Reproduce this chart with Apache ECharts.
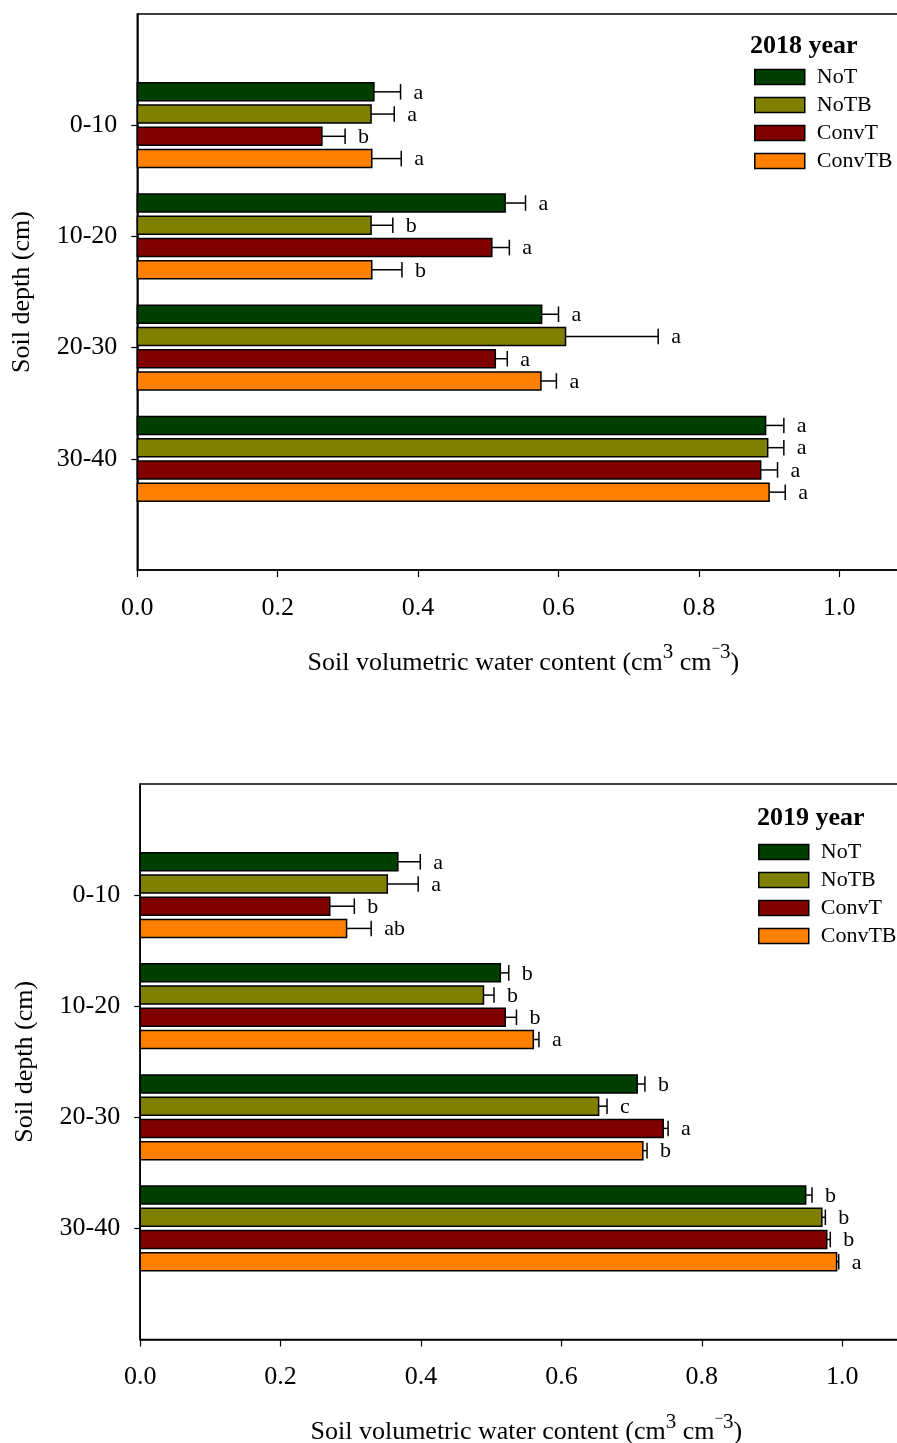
<!DOCTYPE html>
<html><head><meta charset="utf-8">
<script src="https://cdn.jsdelivr.net/npm/echarts@6/dist/echarts.min.js"></script>
<style>html,body{margin:0;padding:0;background:#fff}#c{width:897px;height:1443px}</style>
</head><body><div id="c"></div>
<script>
const depths = ['0-10', '10-20', '20-30', '30-40'];
const treatments = ['NoT', 'NoTB', 'ConvT', 'ConvTB'];
const colors = ['#003F00', '#808000', '#800000', '#FF8000'];
const xTicks = [0, 0.2, 0.4, 0.6, 0.8, 1.0];

// 2018
const y18_NoT = [0.337, 0.524, 0.576, 0.895];
const y18_NoTB = [0.333, 0.333, 0.610, 0.898];
const y18_ConvT = [0.263, 0.505, 0.510, 0.888];
const y18_ConvTB = [0.334, 0.334, 0.575, 0.900];
const e18_NoT = [0.038, 0.029, 0.024, 0.026];
const e18_NoTB = [0.033, 0.031, 0.132, 0.023];
const e18_ConvT = [0.033, 0.025, 0.017, 0.024];
const e18_ConvTB = [0.042, 0.043, 0.022, 0.023];
const l18_NoT = ['a', 'a', 'a', 'a'];
const l18_NoTB = ['a', 'b', 'a', 'a'];
const l18_ConvT = ['b', 'a', 'a', 'a'];
const l18_ConvTB = ['a', 'b', 'a', 'a'];

// 2019
const y19_NoT = [0.367, 0.513, 0.708, 0.948];
const y19_NoTB = [0.352, 0.489, 0.653, 0.971];
const y19_ConvT = [0.270, 0.520, 0.745, 0.978];
const y19_ConvTB = [0.294, 0.560, 0.716, 0.992];
const e19_NoT = [0.032, 0.012, 0.011, 0.009];
const e19_NoTB = [0.044, 0.015, 0.012, 0.005];
const e19_ConvT = [0.035, 0.016, 0.007, 0.005];
const e19_ConvTB = [0.035, 0.008, 0.006, 0.003];
const l19_NoT = ['a', 'b', 'b', 'b'];
const l19_NoTB = ['a', 'b', 'c', 'b'];
const l19_ConvT = ['b', 'b', 'a', 'b'];
const l19_ConvTB = ['ab', 'a', 'b', 'a'];

const FONT = '"Liberation Serif", "Times New Roman", serif';
const OFFSETS = [-0.3, -0.1, 0.1, 0.3];
const BAR_H = 0.162;
const CAP_H = 0.14;

function makeRender(sIdx, letters) {
  return function (params, api) {
    const v = api.value(0), pos = api.value(1), err = api.value(2);
    const yc = pos + OFFSETS[sIdx];
    const p0 = api.coord([0, yc]);
    const p1 = api.coord([v, yc]);
    const pe = api.coord([v + err, yc]);
    const h = Math.abs(api.size([0, BAR_H])[1]);
    const ch = Math.abs(api.size([0, CAP_H])[1]);
    return {
      type: 'group',
      children: [
        { type: 'rect', shape: { x: p0[0], y: p0[1] - h / 2, width: p1[0] - p0[0], height: h },
          style: { fill: api.visual('color'), stroke: '#000', lineWidth: 1.5 } },
        { type: 'line', shape: { x1: p1[0], y1: p1[1], x2: pe[0], y2: pe[1] },
          style: { stroke: '#000', lineWidth: 1.5 } },
        { type: 'line', shape: { x1: pe[0], y1: pe[1] - ch / 2, x2: pe[0], y2: pe[1] + ch / 2 },
          style: { stroke: '#000', lineWidth: 1.5 } },
        { type: 'text', style: { text: letters[params.dataIndex], x: pe[0] + 13, y: pe[1] + 1,
          fill: '#000', fontSize: 22, fontFamily: FONT, align: 'left', verticalAlign: 'middle' } }
      ]
    };
  };
}

function buildSeries(gridIdx, vals, errs, letters) {
  return treatments.map((name, s) => ({
    type: 'custom',
    name: name,
    xAxisIndex: gridIdx,
    yAxisIndex: gridIdx,
    itemStyle: { color: colors[s], borderColor: '#000', borderWidth: 1.5 },
    renderItem: makeRender(s, letters[s]),
    encode: { x: 0, y: 1 },
    data: depths.map((d, i) => [vals[s][i], i + 1, errs[s][i]]),
    clip: false
  }));
}

const xName = '{n|Soil volumetric water content (cm}{s|3}{n| cm}{m|\u2212}{s|3}{n|)}';
const richName = {
  n: { fontSize: 26, fontFamily: FONT, color: '#000', lineHeight: 34, verticalAlign: 'bottom' },
  s: { fontSize: 21, fontFamily: FONT, color: '#000', lineHeight: 21, verticalAlign: 'top' },
  m: { fontSize: 15, fontFamily: FONT, color: '#000', lineHeight: 15, verticalAlign: 'top' }
};

function xAxis(gridIdx) {
  return {
    type: 'value', gridIndex: gridIdx, min: 0, max: 1.1, interval: 0.2,
    name: xName, nameLocation: 'middle', nameGap: 72,
    nameTextStyle: { rich: richName },
    axisLine: { show: true, onZero: false, lineStyle: { color: '#000', width: 1.5 } },
    axisTick: { show: true, length: 7, lineStyle: { color: '#000', width: 1.2 }, customValues: xTicks },
    axisLabel: { customValues: xTicks, formatter: v => v.toFixed(1), fontSize: 26, fontFamily: FONT, color: '#000', margin: 25 },
    splitLine: { show: false }
  };
}
function yAxis(gridIdx) {
  return {
    type: 'value', gridIndex: gridIdx, min: 0, max: 5, inverse: true,
    name: 'Soil depth (cm)', nameLocation: 'middle', nameGap: 102,
    nameTextStyle: { fontSize: 26, fontFamily: FONT, color: '#000' },
    axisLine: { show: true, onZero: false, lineStyle: { color: '#000', width: 1.5 } },
    axisTick: { show: true, length: 6, lineStyle: { color: '#000', width: 1.2 }, customValues: [1, 2, 3, 4] },
    axisLabel: { customValues: [1, 2, 3, 4], formatter: v => depths[Math.round(v) - 1] || '', fontSize: 26, fontFamily: FONT, color: '#000', margin: 20 },
    splitLine: { show: false }
  };
}

function legend(left, top) {
  return {
    orient: 'vertical', left: left, top: top, padding: 0,
    data: treatments,
    icon: 'rect', itemWidth: 50, itemHeight: 15, itemGap: 6,
    itemStyle: { borderColor: '#000', borderWidth: 1.5 },
    textStyle: { fontSize: 22, fontFamily: FONT, color: '#000', padding: [0, 0, 0, 7] },
    selectedMode: false
  };
}

const chart = echarts.init(document.getElementById('c'), null, { renderer: 'canvas' });
chart.setOption({
  animation: false,
  backgroundColor: '#fff',
  title: [
    { text: '2018 year', left: 750, top: 33, padding: 0, textStyle: { fontSize: 26, fontWeight: 'bold', fontFamily: FONT, color: '#000' } },
    { text: '2019 year', left: 757, top: 805, padding: 0, textStyle: { fontSize: 26, fontWeight: 'bold', fontFamily: FONT, color: '#000' } }
  ],
  legend: [legend(754, 66), legend(758, 841)],
  grid: [
    { left: 137.3, top: 14, width: 772.2, height: 556, show: true, borderColor: '#000', borderWidth: 1.5, containLabel: false, outerBoundsMode: 'none' },
    { left: 140.2, top: 784, width: 772.2, height: 555.5, show: true, borderColor: '#000', borderWidth: 1.5, containLabel: false, outerBoundsMode: 'none' }
  ],
  xAxis: [xAxis(0), xAxis(1)],
  yAxis: [yAxis(0), yAxis(1)],
  series: [
    ...buildSeries(0, [y18_NoT, y18_NoTB, y18_ConvT, y18_ConvTB], [e18_NoT, e18_NoTB, e18_ConvT, e18_ConvTB], [l18_NoT, l18_NoTB, l18_ConvT, l18_ConvTB]),
    ...buildSeries(1, [y19_NoT, y19_NoTB, y19_ConvT, y19_ConvTB], [e19_NoT, e19_NoTB, e19_ConvT, e19_ConvTB], [l19_NoT, l19_NoTB, l19_ConvT, l19_ConvTB])
  ]
});
</script></body></html>
